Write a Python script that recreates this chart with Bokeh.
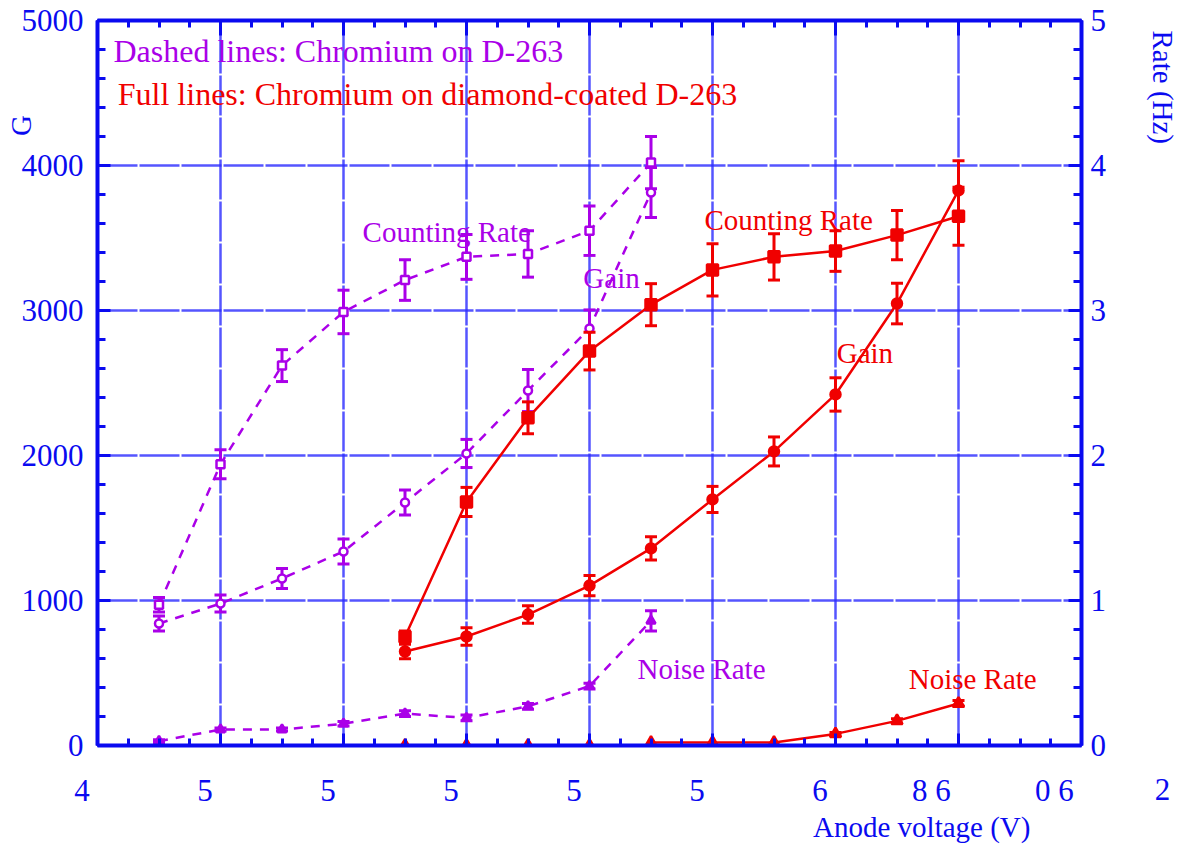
import math
from bokeh.plotting import figure
from bokeh.models import Range1d, LinearAxis, FixedTicker, Label
from bokeh.embed import file_html
from bokeh.resources import INLINE

# ---------------- data ----------------
# Chromium on D-263 (dashed, purple)
v_d263 = [490, 500, 510, 520, 530, 540, 550, 560, 570]
d263_rate = [0.97, 1.94, 2.62, 2.99, 3.21, 3.37, 3.39, 3.55, 4.02]
d263_rate_err = [0.05, 0.10, 0.11, 0.15, 0.14, 0.155, 0.16, 0.17, 0.18]
d263_gain = [841, 979, 1152, 1338, 1676, 2014, 2448, 2876, 3814]
d263_gain_err = [52, 59, 69, 86, 86, 97, 145, 128, 172]
d263_noise = [0.03, 0.11, 0.11, 0.15, 0.22, 0.19, 0.27, 0.41, 0.86]
d263_noise_err = [0.01, 0.01, 0.01, 0.015, 0.02, 0.02, 0.02, 0.02, 0.07]

# Chromium on diamond-coated D-263 (full, red)
v_diam = [530, 540, 550, 560, 570, 580, 590, 600, 610, 620]
diam_rate = [0.75, 1.68, 2.26, 2.72, 3.04, 3.28, 3.37, 3.41, 3.52, 3.65]
diam_rate_err = [0.04, 0.10, 0.11, 0.13, 0.145, 0.18, 0.16, 0.14, 0.17, 0.20]
diam_gain = [648, 752, 903, 1103, 1359, 1697, 2028, 2421, 3048, 3828]
diam_gain_err = [50, 60, 60, 70, 80, 90, 100, 115, 140, 205]
diam_noise = [0.0, 0.0, 0.0, 0.0, 0.02, 0.02, 0.02, 0.08, 0.17, 0.29]
diam_noise_err = [0.0, 0.0, 0.0, 0.0, 0.0, 0.0, 0.0, 0.01, 0.015, 0.02]

x_ticks = [480, 500, 520, 540, 560, 580, 600, 620, 640]
x_tick_labels = ["4", "5", "5", "5", "5", "5", "6", "8 6", "0 6"]
x_extra_label = "2"
g_ticks = [0, 1000, 2000, 3000, 4000, 5000]
rate_ticks = [0, 1, 2, 3, 4, 5]

# ---------------- style ----------------
BLUE = "#0a0af0"
PURPLE = "#aa00e8"
RED = "#f00000"
FONT = "Liberation Serif"
NBSP = "\u00a0"

p = figure(width=1184, height=845, output_backend="svg", toolbar_location=None,
           x_range=Range1d(480, 640), y_range=Range1d(0, 5000),
           min_border_left=97, min_border_right=103, min_border_top=20,
           min_border_bottom=100, background_fill_color="white",
           border_fill_color="white")
p.outline_line_color = None
p.extra_y_ranges = {"rate": Range1d(0, 5)}

xt = FixedTicker(ticks=x_ticks, minor_ticks=list(range(480, 641, 5)))
gt = FixedTicker(ticks=g_ticks, minor_ticks=list(range(0, 5001, 200)))
rt = FixedTicker(ticks=rate_ticks, minor_ticks=[i * 0.2 for i in range(26)])


def style_axis(ax, major_in, minor_in):
    ax.axis_line_color = BLUE
    ax.axis_line_width = 4
    ax.major_tick_line_color = BLUE
    ax.major_tick_line_width = 3
    ax.minor_tick_line_color = BLUE
    ax.minor_tick_line_width = 3
    ax.major_tick_in = major_in
    ax.major_tick_out = 0
    ax.minor_tick_in = minor_in
    ax.minor_tick_out = 0
    ax.major_label_text_font = FONT
    ax.major_label_text_font_size = "31px"
    ax.major_label_text_color = BLUE
    ax.axis_label_text_font = FONT
    ax.axis_label_text_font_size = "29px"
    ax.axis_label_text_font_style = "normal"
    ax.axis_label_text_color = BLUE


xb = p.xaxis[0]
xb.ticker = xt
style_axis(xb, 12, 7)
# the original's labels sit just left of their ticks: pad them on the right
xb.major_label_overrides = {
    t: s + NBSP * (7 if len(s) > 1 else 4) for t, s in zip(x_ticks, x_tick_labels)
}
xb.major_label_standoff = 27

yl = p.yaxis[0]
yl.ticker = gt
style_axis(yl, 13, 8)
yl.major_label_standoff = 14

# the "G" title sits high on the left side, as in the original (ROOT) figure;
# a tick-less companion axis carries it, padded so it lands near the top
yg = LinearAxis(ticker=FixedTicker(ticks=[]), axis_label=NBSP * 71 + "G")
style_axis(yg, 0, 0)
yg.axis_line_color = None
yg.major_label_standoff = 0
yg.axis_label_standoff = -18
p.add_layout(yg, "left")

yr = LinearAxis(y_range_name="rate", ticker=rt)
style_axis(yr, 13, 8)
yr.major_label_standoff = 9
p.add_layout(yr, "right")

xa = LinearAxis(ticker=xt)
style_axis(xa, 15, 7)
xa.major_label_text_color = None
xa.major_label_text_font_size = "1px"
xa.major_label_standoff = 0
p.add_layout(xa, "above")

for g in (p.xgrid[0], p.ygrid[0]):
    g.grid_line_color = "#2a2aff"
    g.grid_line_alpha = 0.8
    g.grid_line_width = 2.5
    g.grid_line_dash = "40 2"
p.xgrid[0].ticker = xt
p.ygrid[0].ticker = gt


def series(xs, ys, errs, color, dash, marker, size, fill, rng=None, line_from=0):
    kw = {"y_range_name": rng} if rng else {}
    p.line(xs[line_from:], ys[line_from:], line_color=color, line_width=2.5,
           line_dash=dash, **kw)
    lo = [y - e for y, e in zip(ys, errs)]
    hi = [y + e for y, e in zip(ys, errs)]
    ex = [x for x, e in zip(xs, errs) if e > 0]
    elo = [l for l, e in zip(lo, errs) if e > 0]
    ehi = [h for h, e in zip(hi, errs) if e > 0]
    p.segment(ex, elo, ex, ehi, line_color=color, line_width=3, **kw)
    p.scatter(ex, elo, marker="dash", size=12, line_color=color, line_width=3, **kw)
    p.scatter(ex, ehi, marker="dash", size=12, line_color=color, line_width=3, **kw)
    p.scatter(xs, ys, marker=marker, size=size, line_color=color, line_width=2.5,
              fill_color=color if fill else "white", **kw)


series(v_d263, d263_rate, d263_rate_err, PURPLE, "9 8", "square", 8, False, "rate")
series(v_d263, d263_gain, d263_gain_err, PURPLE, "9 8", "circle", 8, False)
series(v_d263, d263_noise, d263_noise_err, PURPLE, "9 8", "triangle", 9, True, "rate")

series(v_diam, diam_rate, diam_rate_err, RED, "solid", "square", 11, True, "rate")
series(v_diam, diam_gain, diam_gain_err, RED, "solid", "circle", 10, True)
series(v_diam, diam_noise, diam_noise_err, RED, "solid", "triangle", 11, True, "rate",
       line_from=4)


def txt(t, x, y, color, size="29px", angle=0.0, align="left", baseline="middle",
        xo=0, yo=0, place="center"):
    p.add_layout(Label(x=x, y=y, text=t, text_color=color, text_font=FONT,
                       text_font_size=size, angle=angle, text_align=align,
                       text_baseline=baseline, x_offset=xo, y_offset=yo), place)


txt("Dashed lines: Chromium on D-263", 482.6, 4793, PURPLE, size="32px")
txt("Full lines: Chromium on diamond-coated D-263", 483.3, 4490, RED, size="32px")
txt("Counting Rate", 523.1, 3538, PURPLE)
txt("Gain", 559.0, 3221, PURPLE)
txt("Counting Rate", 578.7, 3621, RED)
txt("Gain", 600.2, 2710, RED)
txt("Noise Rate", 567.8, 531, PURPLE)
txt("Noise Rate", 611.9, 462, RED)

# outer texts (ROOT-style placement), drawn in the side panels
txt("Rate (Hz)", 653.2, 4931, BLUE, angle=-math.pi / 2, align="left", place="right")
txt(x_extra_label, x_ticks[-1], -303, BLUE, size="31px", align="center", xo=81,
    place="right")
txt("Anode voltage (V)", 631.7, -559, BLUE, align="right", place="below")

open("out.html", "w").write(file_html(p, INLINE))
